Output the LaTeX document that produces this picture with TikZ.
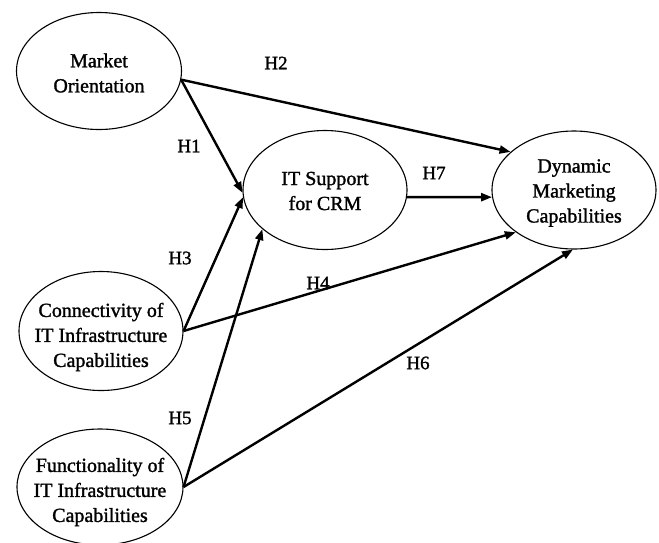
\documentclass[tikz,border=0pt]{standalone}
\usepackage{fontspec}
\setmainfont{Liberation Serif}
\newfontfamily\diafont{Liberation Serif}[FakeBold=1.4]
\usetikzlibrary{shapes.geometric,arrows.meta}
\begin{document}
\begin{tikzpicture}[x=1pt,y=-1pt,
  construct/.style={draw, ellipse, line width=1.1pt, inner sep=0pt},
  ctext/.style={align=center, inner sep=0pt, font=\diafont\fontsize{20}{25}\selectfont},
  hyp/.style={font=\diafont\fontsize{19}{22}\selectfont, inner sep=0pt},
  path/.style={line width=2.4pt, -{Triangle[length=11pt,width=8pt]}}]
\useasboundingbox (0,0) rectangle (659,542);
\node[construct, minimum width=165pt, minimum height=117pt] (mo) at (99,71) {};
\node[construct, minimum width=164pt, minimum height=119pt] (it) at (325,190) {};
\node[construct, minimum width=164pt, minimum height=118pt] (dmc) at (574,190) {};
\node[construct, minimum width=164pt, minimum height=119pt] (con) at (101,331) {};
\node[construct, minimum width=166pt, minimum height=116pt] (fun) at (100,487) {};
\node[ctext, yshift=-2pt] (mot) at (mo) {Market\\Orientation};
\node[ctext, yshift=-1pt] (itt) at (it) {IT Support\\for CRM};
\node[ctext, yshift=-3pt] (dmct) at (dmc) {Dynamic\\Marketing\\Capabilities};
\node[ctext, yshift=-6pt] (cont) at (con) {Connectivity of\\IT Infrastructure\\Capabilities};
\node[ctext, yshift=-5pt] (funt) at (fun) {Functionality of\\IT Infrastructure\\Capabilities};
\node[hyp] (h1) at (189,146) {H1};
\node[hyp] (h2) at (276,63) {H2};
\node[hyp] (h3) at (180,258) {H3};
\node[hyp] (h4) at (318,283) {H4};
\node[hyp] (h5) at (180,418) {H5};
\node[hyp] (h6) at (418,363) {H6};
\node[hyp] (h7) at (434,173) {H7};
\draw[path] (mo.-6) -- (it.182);
\draw[path] (mo.-6) -- (dmc.149);
\draw[path] (con.east) -- (it.185);
\draw[path] (con.east) -- (dmc.216);
\draw[path] (fun.east) -- (it.212);
\draw[path] (fun.east) -- (dmc.269);
\draw[path] (it.-5) -- (dmc.185);
\end{tikzpicture}
\end{document}
